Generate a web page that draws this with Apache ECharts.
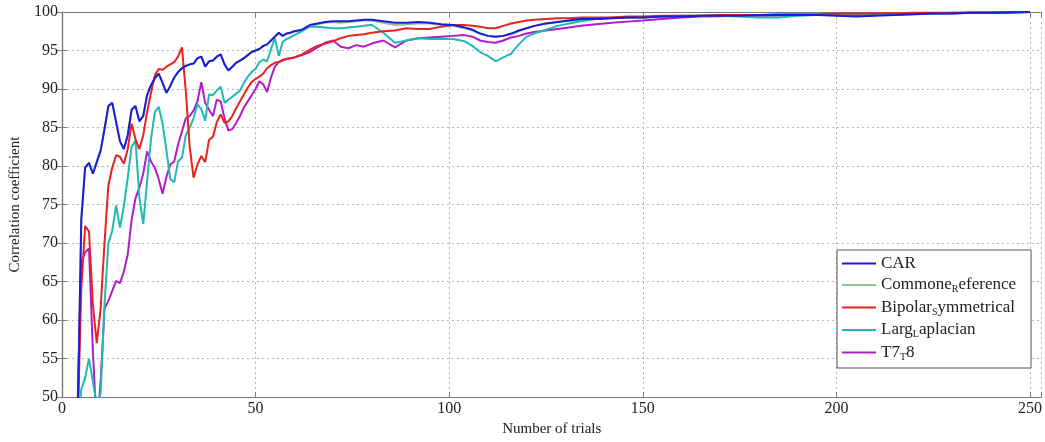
<!DOCTYPE html>
<html>
<head>
<meta charset="utf-8">
<script src="https://cdn.jsdelivr.net/npm/echarts@6/dist/echarts.min.js"></script>
<style>
html,body{margin:0;padding:0;background:#fff;}
#chart{width:1045px;height:442px;}
</style>
</head>
<body>
<div id="chart"></div>
<script>
// Number of trials (x values shared by all series)
var trials = [4,5,6,7,8,9,10,11,12,13,14,15,16,17,18,19,20,21,22,23,24,25,26,27,28,29,30,31,32,33,34,35,36,37,38,39,40,41,42,43,44,45,46,47,48,49,50,51,52,53,54,55,56,57,58,59,60,
  62,64,66,68,70,72,74,76,78,80,83,86,89,92,95,98,101,104,106,108,110,112,114,116,118,120,122,125,128,131,134,138,142,146,150,
  155,160,165,170,175,180,185,190,195,200,205,210,215,220,225,230,235,240,245,250];

var car = [45,73,79.8,80.4,79,80.5,82,84.8,87.8,88.2,85.7,83.2,82.2,84,87.3,87.8,85.8,86.5,89.2,90.5,91.4,92,90.8,89.5,90.4,91.5,92.2,92.7,93,93.2,93.3,94,94.2,92.9,93.6,93.7,94.2,94.5,93.2,92.4,92.9,93.4,93.7,94,94.4,94.8,95,95.2,95.6,95.8,96.3,96.8,97.3,96.9,97.2,97.3,97.5,
  97.7,98.3,98.5,98.7,98.8,98.8,98.8,98.9,99.0,99.0,98.8,98.6,98.6,98.7,98.6,98.4,98.3,98.0,97.7,97.2,96.9,96.8,96.9,97.2,97.6,97.9,98.2,98.5,98.7,98.9,99.1,99.1,99.2,99.3,99.3,
  99.4,99.4,99.5,99.5,99.5,99.6,99.6,99.6,99.6,99.5,99.4,99.5,99.6,99.7,99.8,99.8,99.9,99.9,99.95,100];

var commonRef = [45,73,79.8,80.4,79,80.5,82,84.8,87.8,88.2,85.7,83.2,82.2,84,87.3,87.8,85.8,86.5,89.2,90.5,91.4,92,90.8,89.5,90.4,91.5,92.2,92.7,93,93.2,93.3,94,94.2,92.9,93.6,93.7,94.2,94.5,93.2,92.4,92.9,93.4,93.7,94,94.4,94.8,95,95.2,95.6,95.8,96.3,96.8,97.3,96.9,97.2,97.3,97.5,
  97.6,98.2,98.4,98.6,98.7,98.6,98.7,98.8,98.9,98.9,98.6,98.3,98.4,98.5,98.5,98.3,98.2,97.9,97.6,97.2,96.9,96.8,96.9,97.1,97.5,97.9,98.2,98.5,98.7,98.9,99.0,99.1,99.2,99.3,99.3,
  99.4,99.4,99.5,99.5,99.5,99.5,99.6,99.6,99.6,99.6,99.5,99.6,99.6,99.7,99.8,99.8,99.9,99.9,99.95,100];

var bipolar = [45,64,72.2,71.5,62,57,61.5,70,77.5,79.8,81.4,81.2,80.3,82.2,85.5,83.5,82.2,84,87,89.5,91.8,92.6,92.5,92.9,93.2,93.5,94.2,95.4,89.7,82.5,78.5,80.2,81.3,80.5,83.4,83.8,85.7,86.7,85.6,85.8,86.5,87.5,88.4,89.3,90.2,90.9,91.3,91.6,92,92.7,93.1,93.4,93.5,93.7,93.9,94.0,94.1,
  94.5,95.1,95.6,95.9,96.2,96.6,96.9,97.0,97.1,97.3,97.5,97.6,97.9,97.8,97.8,98.1,98.3,98.3,98.2,98.1,97.9,97.9,98.2,98.5,98.7,98.9,99.0,99.1,99.2,99.2,99.3,99.3,99.3,99.4,99.4,
  99.5,99.5,99.5,99.6,99.6,99.6,99.7,99.7,99.7,99.8,99.8,99.8,99.85,99.9,99.9,99.9,99.95,99.95,100,100];

var largeLap = [45,51,52.5,55,52,49,50.5,62,70,71.6,74.9,72,74.8,78.5,82.5,83.3,76,72.5,78,83.5,87,87.7,85.5,82,78.3,77.9,80.6,81.1,84,85,86.2,88,87.4,85.9,89.3,89.2,89.8,90.3,88.2,88.6,89,89.4,89.8,90.8,91.6,92.2,92.6,93.5,93.8,93.6,95.2,96.6,94.3,96.1,96.5,96.7,97,
  97.5,98.1,98.1,98.0,97.9,97.9,98.0,98.1,98.2,98.35,97.3,96.0,96.3,96.6,96.5,96.5,96.5,96.2,95.6,94.8,94.3,93.6,94.1,94.6,95.8,96.8,97.2,97.7,98.2,98.5,98.8,99.1,99.3,99.3,99.3,
  99.4,99.5,99.5,99.5,99.4,99.3,99.3,99.5,99.6,99.6,99.7,99.7,99.8,99.8,99.8,99.9,99.9,99.9,100,100];

var t7t8 = [48,67.5,68.8,69.3,56,46,52,61.5,62.5,63.8,65.1,64.8,66.3,68.5,73,75.8,77.2,79,81.9,80.6,79.8,78.3,76.4,78.6,80.2,80.6,82.8,84.5,86.2,86.5,87.2,88.4,90.9,88.2,87.3,86.5,88.6,88.4,86.2,84.6,84.8,85.6,86.5,87.6,88.4,89.2,90,91,90.6,89.6,91.5,92.9,93.5,93.8,93.9,94.0,94.1,
  94.4,94.8,95.4,96.0,96.3,95.5,95.3,95.7,95.5,95.9,96.3,95.4,96.3,96.6,96.7,96.8,96.9,97.0,96.8,96.3,96.1,96.0,96.3,96.7,96.9,97.2,97.4,97.6,97.8,98.0,98.2,98.4,98.6,98.75,98.9,
  99.1,99.3,99.4,99.45,99.5,99.5,99.55,99.6,99.6,99.6,99.65,99.7,99.7,99.75,99.8,99.85,99.9,99.9,99.95,100];

var seriesNames = ['CAR','Common Reference','Bipolar Symmetrical','Large Laplacian','T7 T8'];
// legend text pieces: [main, subscript, rest]
var legendText = [['CAR','',''],['Commone','R','eference'],['Bipolar','S','ymmetrical'],['Larg','L','aplacian'],['T7','T','8']];
var seriesValues = [car, commonRef, bipolar, largeLap, t7t8];
var colors = ['#1c1cd6','#8fc497','#e8231f','#22b8b3','#b01cc8'];
var xTicks = [0,50,100,150,200,250];

var chart = echarts.init(document.getElementById('chart'), null, {renderer:'canvas'});
var font = 'Liberation Serif, Times New Roman, serif';
var drawOrder = [1,4,3,2,0];

var series = [];
drawOrder.forEach(function(k, z){
  series.push({
    name: seriesNames[k], type:'line', xAxisIndex:0, yAxisIndex:0,
    data: trials.map(function(t,i){return [t, seriesValues[k][i]];}),
    showSymbol:false, symbol:'none', clip:true, z: 2+z,
    lineStyle:{color:colors[k], width:2},
    itemStyle:{color:colors[k]}
  });
});

var gridLine = {show:true, lineStyle:{color:'#b5b5b5', type:[2,3], width:1}};
var axisLine = {show:true, lineStyle:{color:'#7a7a7a', width:1.2}};
var tick = {show:true, inside:true, length:5, lineStyle:{color:'#7a7a7a'}};

chart.setOption({
  animation:false,
  backgroundColor:'#fff',
  grid:{left:61, right:2, top:12, bottom:35, containLabel:false},
  legend:{
    data: [0,1,2,3,4].map(function(k){return seriesNames[k];}),
    orient:'vertical', left:837, top:250,
    backgroundColor:'#fff', borderColor:'#555', borderWidth:1,
    padding:[5,15,6,5], itemGap:4.5, itemWidth:34, itemHeight:2, icon:'rect',
    formatter:function(name){
      var k = seriesNames.indexOf(name);
      var p = legendText[k];
      var s = '{n|' + p[0] + '}';
      if (p[1]) s += '{s|' + p[1] + '}';
      if (p[2]) s += '{n|' + p[2] + '}';
      return s;
    },
    textStyle:{
      fontFamily:font, fontSize:17, color:'#222',
      rich:{
        n:{fontFamily:font, fontSize:17, color:'#222'},
        s:{fontFamily:font, fontSize:10, color:'#222', padding:[9,0,0,0]}
      }
    }
  },
  xAxis:[{
    type:'value', min:0, max:253, interval:50, position:'bottom',
    name:'Number of trials', nameLocation:'middle', nameGap:22,
    nameTextStyle:{fontFamily:font, fontSize:15, color:'#222'},
    axisLine:axisLine, axisTick:tick,
    axisLabel:{fontFamily:font, fontSize:16, color:'#222', margin:4,
      customValues: xTicks},
    splitLine:gridLine
  },{
    type:'value', min:0, max:253, interval:50, position:'top',
    axisLine:axisLine, axisTick:tick, axisLabel:{show:false}, splitLine:{show:false}
  }],
  yAxis:[{
    type:'value', min:50, max:100, interval:5, position:'left',
    name:'Correlation coefficient', nameLocation:'middle', nameGap:36, nameRotate:90,
    nameTextStyle:{fontFamily:font, fontSize:15, color:'#222'},
    axisLine:axisLine, axisTick:tick,
    axisLabel:{fontFamily:font, fontSize:16, color:'#222', margin:4},
    splitLine:gridLine
  },{
    type:'value', min:50, max:100, interval:5, position:'right',
    axisLine:axisLine, axisTick:tick, axisLabel:{show:false}, splitLine:{show:false}
  }],
  series: series
});
</script>
</body>
</html>
